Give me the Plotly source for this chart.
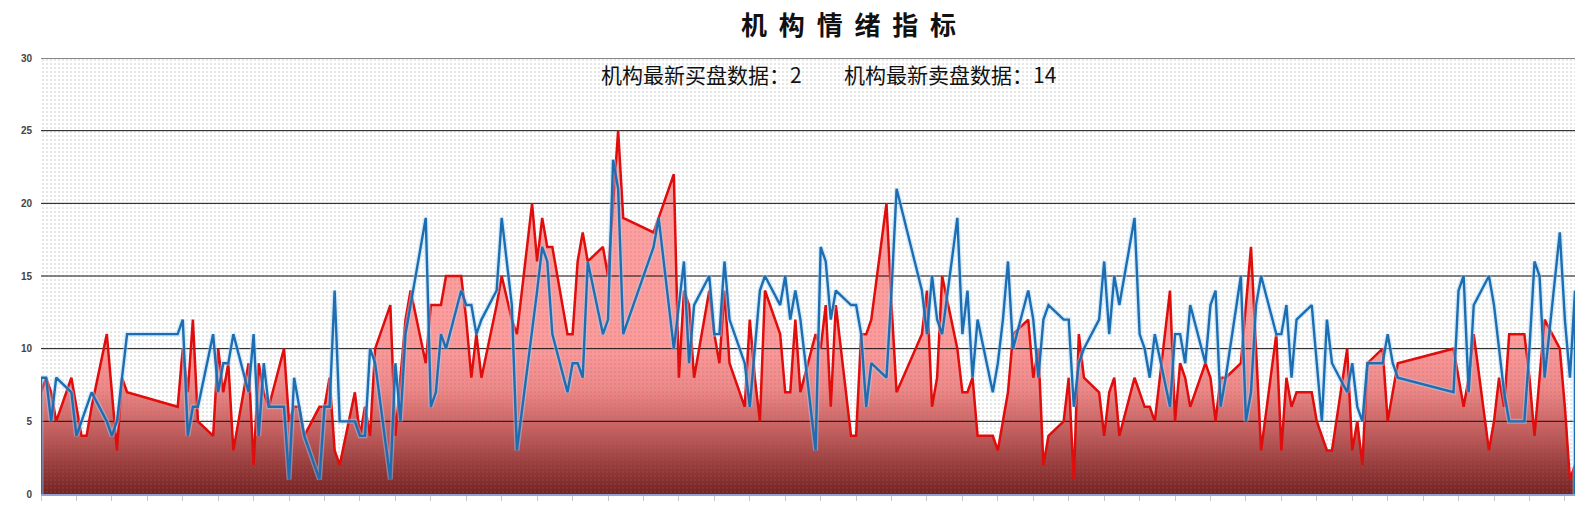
import pandas as pd
import plotly.graph_objects as go

# ---- data -------------------------------------------------------------
holidays = ["2023-01-23", "2023-01-24", "2023-01-25", "2023-01-26", "2023-01-27",
            "2023-04-05", "2023-05-01", "2023-05-02", "2023-05-03",
            "2023-06-22", "2023-06-23", "2023-09-29",
            "2023-10-02", "2023-10-03", "2023-10-04", "2023-10-05", "2023-10-06"]
dates = pd.bdate_range("2023-01-03", "2023-11-02", freq="C", holidays=holidays)

buy = [7, 8, 7, 5, 8, 6, 4, 4, 6, 11, 7, 3, 8, 7, 6, 10,
       7, 12, 5, 4, 10, 7, 9, 3, 9, 2, 9, 7, 6, 10, 5, 6, 6, 4, 6, 6,
       8, 3, 2, 7, 4, 6, 4, 10, 13, 4, 8, 12, 14, 9, 13, 13, 13, 15, 15, 12, 8, 11, 8,
       13, 15, 12, 11, 20, 16, 19, 17, 17, 11, 11, 16, 18, 16, 17, 15, 20, 25, 19,
       18, 19, 22, 8, 14, 13, 8, 14, 11, 9, 14, 9, 6, 12, 8, 5, 14, 11, 7, 7,
       12, 7, 11, 10, 13, 6, 13, 4, 4, 11, 11, 12, 20, 13, 7, 11, 14, 6, 8, 15,
       10, 7, 7, 8, 4, 4, 3, 5, 7, 11, 12, 8, 10, 2, 4, 5, 8, 1, 11, 8, 7,
       4, 7, 8, 4, 8, 7, 6, 6, 5, 14, 5, 9, 8, 6, 9, 8, 5, 8, 8, 9, 13, 17, 10,
       3, 11, 3, 8, 6, 7, 7, 5, 4, 3, 3, 10, 3, 5, 2, 9, 10, 5, 7, 9,
       10, 8, 6, 8, 11, 3, 5, 8, 6, 11, 11, 8, 4, 8, 12, 10, 6,
       1, 2]

sell = [8, 8, 5, 8, 7, 4, 5, 6, 7, 5, 4, 5, 8, 11, 11, 12,
        4, 6, 6, 11, 7, 9, 9, 11, 7, 11, 4, 9, 6, 6, 1, 8, 6, 4, 1, 6,
        6, 14, 5, 5, 4, 4, 10, 9, 1, 9, 5, 11, 13, 19, 6, 7, 11, 10, 14, 13, 13, 11, 12,
        14, 19, 13, 3, 11, 14, 17, 16, 11, 7, 9, 9, 8, 16, 11, 12, 23, 21, 11,
        17, 19, 10, 13, 16, 9, 13, 15, 11, 11, 16, 12, 9, 6, 10, 14, 15, 13, 15, 12,
        14, 12, 3, 17, 16, 12, 14, 13, 13, 11, 6, 9, 8, 14, 21, 14, 11, 15, 12, 11,
        19, 11, 14, 8, 12, 7, 9, 12, 16, 10, 14, 12, 8, 12, 13, 12, 12, 6, 9, 10, 12,
        16, 11, 15, 13, 19, 11, 10, 8, 11, 6, 11, 11, 9, 13, 9, 13, 14, 6, 8, 15, 5, 7, 13,
        15, 11, 11, 13, 8, 12, 13, 9, 5, 12, 9, 7, 9, 6, 5, 9, 9, 11, 9, 8,
        7, 14, 15, 7, 13, 15, 13, 10, 7, 5, 5, 10, 16, 15, 8, 18, 12,
        8, 14]

y_ticks = [0, 5, 10, 15, 20, 25, 30]
title_chars = ["机", "构", "情", "绪", "指", "标"]
buy_label = "机构最新买盘数据："
sell_label = "机构最新卖盘数据："

# ---- figure -------------------------------------------------------------
x0, x1 = dates[0], dates[-1]
ymax = y_ticks[-1]
title_text = "&nbsp;&nbsp;".join(title_chars)
subtitle_text = f"{buy_label}{buy[-1]}" + "&nbsp;" * 9 + f"{sell_label}{sell[-1]}"

fig = go.Figure()

# red filled area (buy)
fig.add_trace(go.Scatter(
    x=dates, y=buy, mode="lines", line=dict(width=0, color="rgba(0,0,0,0)"),
    fill="tozeroy",
    fillgradient=dict(type="vertical", start=0, stop=ymax,
                      colorscale=[[0.0, "#772222"], [0.07, "#9c3d3d"],
                                  [0.15, "#c96060"], [0.24, "#ef8787"],
                                  [0.34, "#ff9a9a"], [1.0, "#ffa6a6"]]),
    hoverinfo="skip"))

# dotted background texture
fig.add_trace(go.Scatter(
    x=[x0, x1], y=[ymax, ymax], mode="lines", line=dict(width=0),
    fill="tozeroy", fillcolor="rgba(0,0,0,0)",
    fillpattern=dict(shape=".", fgcolor="#7a7a7a", bgcolor="rgba(0,0,0,0)",
                     size=4, solidity=0.09),
    hoverinfo="skip"))

# horizontal grid lines (drawn above the area fill)
gx, gy = [], []
for v in y_ticks[1:]:
    gx += [x0, x1, None]
    gy += [v, v, None]
fig.add_trace(go.Scatter(x=gx, y=gy, mode="lines",
                         line=dict(color="#111111", width=1), hoverinfo="skip"))

# red line (buy)
fig.add_trace(go.Scatter(x=dates, y=buy, mode="lines",
                         line=dict(color="#e00d0d", width=2.5), name="买盘"))

# blue line (sell), closed down to the baseline at both ends
bx = [x0] + list(dates) + [x1]
by = [0] + sell + [0]
fig.add_trace(go.Scatter(x=bx, y=by, mode="lines",
                         line=dict(color="rgba(160,215,255,0.45)", width=5),
                         hoverinfo="skip"))
fig.add_trace(go.Scatter(x=bx, y=by, mode="lines",
                         line=dict(color="#1e6db0", width=2.4), name="卖盘"))

fig.update_layout(
    width=1596, height=506,
    margin=dict(l=41, r=21, t=58, b=12),
    paper_bgcolor="white", plot_bgcolor="white",
    showlegend=False,
    title=dict(text=title_text, x=0.5317, xanchor="center", y=1 - 26 / 506, yanchor="middle",
               xref="container", yref="container",
               font=dict(family="Noto Sans CJK SC", size=26, color="#111111", weight="bold")),
    annotations=[dict(text=subtitle_text, x=(828 - 41) / 1534, y=(494 - 74) / 436,
                      xref="paper", yref="paper",
                      xanchor="center", yanchor="middle", showarrow=False,
                      font=dict(family="Noto Sans CJK SC", size=21, color="#111111"))],
)
fig.update_xaxes(type="date", range=[x0, x1], showgrid=False, zeroline=False,
                 automargin=False,
                 showticklabels=False, ticks="outside", ticklen=5, tickcolor="#c8c8c8",
                 tick0="2023-01-03", dtick=7 * 86400000,
                 showline=True, linecolor="#95a2d4", linewidth=1.5)
fig.update_yaxes(range=[0, ymax], tickvals=y_ticks, showgrid=False, zeroline=False,
                 automargin=False,
                 showline=False, ticks="", ticklabelstandoff=8,
                 tickfont=dict(family="Liberation Sans", size=10, color="#444444", weight="bold"))

fig.write_html("out.html", config={"displayModeBar": False},
               post_script="document.body.style.margin='0';")
